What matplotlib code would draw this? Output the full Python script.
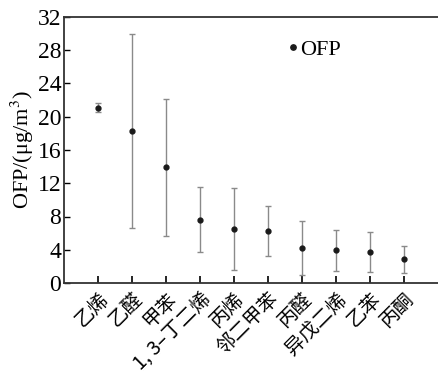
import numpy as np
import matplotlib.pyplot as plt

plt.rcParams['font.family'] = ['Liberation Serif', 'Noto Sans CJK SC']
plt.rcParams['mathtext.fontset'] = 'stix'

compounds = ['乙烯', '乙醛', '甲苯', '1, 3–丁二烯', '丙烯', '邻二甲苯',
             '丙醛', '异戊二烯', '乙苯', '丙酮']
ofp_mean = [21.1, 18.3, 13.9, 7.6, 6.5, 6.3, 4.2, 4.0, 3.7, 2.9]
ofp_high = [21.6, 29.9, 22.1, 11.5, 11.4, 9.3, 7.4, 6.4, 6.1, 4.5]
ofp_low = [20.6, 6.6, 5.65, 3.7, 1.6, 3.25, 0.96, 1.45, 1.3, 1.25]

mean = np.array(ofp_mean)
yerr = [mean - np.array(ofp_low), np.array(ofp_high) - mean]
x = np.arange(1, len(compounds) + 1)

fig = plt.figure(figsize=(4.38, 3.73), dpi=100)
ax = fig.add_axes([64 / 438, 1 - 283 / 373, 374 / 438, 266 / 373])

ax.errorbar(x, mean, yerr=yerr, fmt='none', ecolor='#8a8a8a', elinewidth=1.0,
            capsize=2.5, capthick=1.0)
ax.plot(x, mean, 'o', color='#1a1a1a', markersize=3.5, label='OFP')

ax.set_xlim(0, 11)
ax.set_ylim(0, 32)
ax.set_yticks(np.arange(0, 33, 4))
ax.set_xticks(x)
ax.set_xticklabels(compounds, rotation=45, ha='right', rotation_mode='anchor',
                   family=['Noto Sans CJK SC'], fontsize=14)
ax.tick_params(axis='y', labelsize=17, direction='in', length=4, width=1, pad=2)
ax.tick_params(axis='x', direction='in', length=5, width=1.2, pad=4)
ax.set_ylabel('OFP/(μg/m$^3$)', fontsize=16, labelpad=1)

for side in ['left', 'bottom', 'top']:
    ax.spines[side].set_linewidth(1.3)
    ax.spines[side].set_color('#333333')
ax.spines['right'].set_visible(False)

ax.legend(loc='upper left', bbox_to_anchor=(0.58, 0.95), frameon=False,
          fontsize=16, handlelength=0.3, handletextpad=0.15, markerscale=1.1,
          borderaxespad=0)

fig.savefig('out.png', dpi=100)
